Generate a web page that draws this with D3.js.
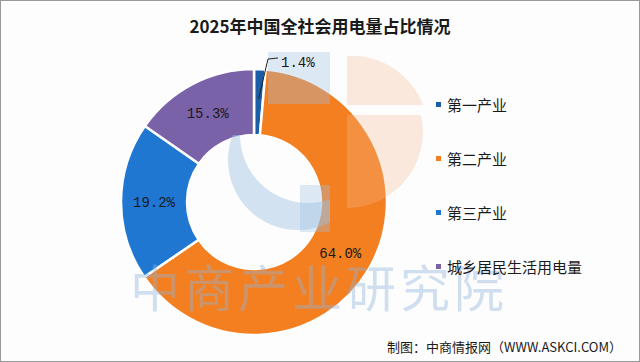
<!DOCTYPE html>
<html lang="zh">
<head>
<meta charset="UTF-8">
<title>2025年中国全社会用电量占比情况</title>
<script src="https://cdn.jsdelivr.net/npm/d3@7"></script>
<style>
  html, body { margin: 0; padding: 0; background: #fff; }
  svg { display: block; }
</style>
</head>
<body>
<svg id="chart" width="640" height="362"></svg>
<script>
const categories = ['第一产业', '第二产业', '第三产业', '城乡居民生活用电量'];
const shares = [1.4, 64.0, 19.2, 15.3];
const colors = ['#1c5ea6', '#f47f20', '#1f77d2', '#7a62a9'];

const svg = d3.select('#chart');
const W = 640, H = 362;
const cx = 254, cy = 202, rOut = 133, rIn = 67;
const cjk = '"Noto Sans CJK SC", "Noto Sans", sans-serif';
const mono = '"Liberation Mono", "DejaVu Sans Mono", monospace';

svg.append('rect').attr('x', 0.5).attr('y', 0.5).attr('width', W - 1).attr('height', H - 1)
  .attr('fill', '#fdfdfe').attr('stroke', '#9a9a9a');

svg.append('text').attr('x', 320).attr('y', 33).attr('text-anchor', 'middle')
  .attr('font-family', cjk).attr('font-weight', 'bold').attr('font-size', 17)
  .attr('fill', '#1a1a1a').text('2025年中国全社会用电量占比情况');

// watermark logo behind-ish
const defs = svg.append('defs');
defs.append('clipPath').attr('id', 'crescentClip')
  .append('rect').attr('x', 220).attr('y', 135).attr('width', 110).attr('height', 110);

const wm = svg.append('g').attr('pointer-events', 'none');

const g = svg.append('g').attr('transform', `translate(${cx},${cy})`);

const pie = d3.pie().sort(null).value(d => d);
const arcs = pie(shares);
const arc = d3.arc().innerRadius(rIn).outerRadius(rOut);

g.selectAll('path.slice').data(arcs).enter().append('path')
  .attr('class', 'slice')
  .attr('d', arc)
  .attr('fill', (d, i) => colors[i])
  .attr('stroke', '#fff').attr('stroke-width', 2.5);

// watermark overlay (semi-transparent)
const ov = svg.append('g').attr('pointer-events', 'none');
const circ = (x, y, r) => `M${x - r},${y}a${r},${r} 0 1,0 ${2 * r},0a${r},${r} 0 1,0 ${-2 * r},0Z`;
ov.append('path')
  .attr('d', circ(298, 160, 70) + circ(308, 135, 68))
  .attr('fill-rule', 'evenodd')
  .attr('clip-path', 'url(#crescentClip)')
  .attr('fill', '#9fc0df').attr('opacity', 0.45);
ov.append('rect').attr('x', 300).attr('y', 185).attr('width', 30).attr('height', 47)
  .attr('fill', '#9fc0df').attr('opacity', 0.35);
ov.append('rect').attr('x', 268).attr('y', 52).attr('width', 62).attr('height', 52)
  .attr('fill', '#9fc0df').attr('opacity', 0.35);
ov.append('path')
  .attr('d', 'M347,56 A76,76 0 0,1 423,105 L347,105 Z')
  .attr('fill', '#f6b890').attr('opacity', 0.3);
ov.append('path')
  .attr('d', 'M347,115 L421,115 A76,76 0 0,1 347,208 Z')
  .attr('fill', '#f6b890').attr('opacity', 0.3);
ov.append('text').attr('x', 130).attr('y', 307)
  .attr('font-family', cjk).attr('font-size', 50).attr('letter-spacing', 4)
  .attr('fill', '#8fb4da').attr('opacity', 0.4).text('中商产业研究院');

// labels
const labelArc = d3.arc().innerRadius((rIn + rOut) / 2).outerRadius((rIn + rOut) / 2);
arcs.forEach((d, i) => {
  const txt = shares[i].toFixed(1) + '%';
  if (i === 0) {
    const p0 = d3.arc().innerRadius(rOut - 30).outerRadius(rOut - 30).centroid(d);
    const pts = [[cx + p0[0], cy + p0[1]], [cx + 14, 59], [cx + 24, 58]];
    svg.append('polyline').attr('points', pts.map(p => p.join(',')).join(' '))
      .attr('fill', 'none').attr('stroke', '#222').attr('stroke-width', 1);
    svg.append('text').attr('x', cx + 27).attr('y', 67)
      .attr('font-family', mono).attr('font-size', 14).attr('fill', '#1a1a1a').text(txt);
  } else {
    const c = labelArc.centroid(d);
    g.append('text').attr('x', c[0]).attr('y', c[1] + 5).attr('text-anchor', 'middle')
      .attr('font-family', mono).attr('font-size', 14).attr('fill', '#1a1a1a').text(txt);
  }
});

// legend
const legendY = d3.scalePoint().domain(categories).range([105, 267]);
const lg = svg.append('g');
categories.forEach((c, i) => {
  lg.append('rect').attr('x', 436).attr('y', legendY(c) - 3).attr('width', 5).attr('height', 5)
    .attr('fill', colors[i]);
  lg.append('text').attr('x', 447).attr('y', legendY(c) + 6)
    .attr('font-family', cjk).attr('font-size', 15).attr('fill', '#1a1a1a').text(c);
});

svg.append('text').attr('x', 622).attr('y', 352).attr('text-anchor', 'end')
  .attr('font-family', cjk).attr('font-size', 13).attr('fill', '#1a1a1a')
  .text('制图：中商情报网（WWW.ASKCI.COM）');
</script>
</body>
</html>
